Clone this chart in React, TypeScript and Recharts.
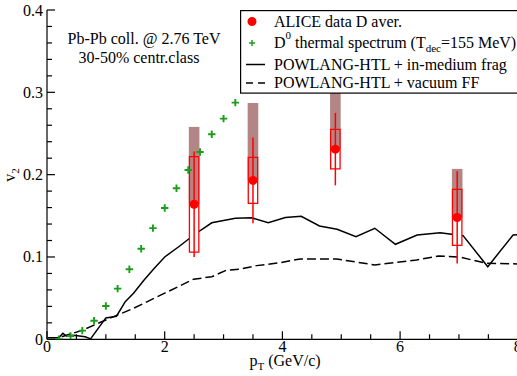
import React from "react";
import {
  ComposedChart,
  Line,
  Scatter,
  ErrorBar,
  XAxis,
  YAxis,
  ReferenceArea,
  Legend,
} from "recharts";

const FONT = "'Liberation Serif', 'Times New Roman', serif";
const RED = "#ff0000";
const GREEN = "#1a9e1a";
const BROWN = "#b38585";

// ALICE D-meson average v2
const alicePt = [2.5, 3.5, 4.9, 6.97];
const aliceV2 = [0.164, 0.193, 0.231, 0.148];
const aliceStat = [0.064, 0.052, 0.044, 0.056];
const aliceSyst = [0.058, 0.028, 0.024, 0.034];
const aliceFeedDown = [0.094, 0.094, 0.094, 0.059];

// D0 thermal spectrum, T_dec = 155 MeV
const thermalPt = [0, 0.2, 0.4, 0.6, 0.8, 1.0, 1.2, 1.4, 1.6, 1.8, 2.0, 2.2, 2.4, 2.6, 2.8, 3.0, 3.2];
const thermalV2 = [0, 0, 0.004, 0.0105, 0.0226, 0.0405, 0.0615, 0.085, 0.11, 0.135, 0.1595, 0.1835, 0.2057, 0.2276, 0.249, 0.268, 0.2875];

// POWLANG-HTL + in-medium hadronization
const inMediumPt = [0, 0.1, 0.2, 0.27, 0.33, 0.45, 0.55, 0.65, 0.74, 1.0, 1.18, 1.33, 1.47, 1.65, 1.82, 2.0, 2.25, 2.5, 2.8, 3.2, 3.48, 3.76, 4.05, 4.32, 4.63, 4.93, 5.25, 5.57, 5.92, 6.29, 6.68, 7.07, 7.49, 7.92, 8.0];
const inMediumV2 = [0.002, 0.002, 0.002, 0.0073, 0.004, 0.005, 0.004, 0.003, 0.0005, 0.026, 0.028, 0.0457, 0.056, 0.072, 0.086, 0.1, 0.113, 0.127, 0.1415, 0.147, 0.1475, 0.1415, 0.148, 0.1494, 0.1377, 0.1336, 0.1247, 0.1349, 0.1154, 0.1267, 0.1295, 0.1259, 0.0882, 0.1267, 0.127];

// POWLANG-HTL + vacuum fragmentation
const vacuumPt = [0.25, 0.6, 1.0, 1.47, 2.0, 2.49, 2.8, 3.05, 3.27, 3.56, 3.96, 4.3, 4.92, 5.57, 6.28, 6.65, 7.02, 7.47, 8.0];
const vacuumV2 = [0.003, 0.011, 0.0235, 0.0376, 0.056, 0.073, 0.076, 0.084, 0.085, 0.0895, 0.093, 0.0976, 0.0976, 0.0903, 0.0964, 0.1012, 0.0997, 0.0923, 0.0915];

const xTicks = [0, 0.5, 1, 1.5, 2, 2.5, 3, 3.5, 4, 4.5, 5, 5.5, 6, 6.5, 7, 7.5, 8];
const yTicks = [0, 0.02, 0.04, 0.06, 0.08, 0.1, 0.12, 0.14, 0.16, 0.18, 0.2, 0.22, 0.24, 0.26, 0.28, 0.3, 0.32, 0.34, 0.36, 0.38, 0.4];

const aliceData = alicePt.map((x, i) => ({ x, y: aliceV2[i], err: aliceStat[i] }));
const thermalData = thermalPt.map((x, i) => ({ x, y: thermalV2[i] }));
const inMediumData = inMediumPt.map((x, i) => ({ x, y: inMediumV2[i] }));
const vacuumData = vacuumPt.map((x, i) => ({ x, y: vacuumV2[i] }));

const BOX_HALF = 0.08;
const BAND_HALF = 0.09;
const MAJOR = 8;
const MINOR = 5;

const isMajor = (v: number, step: number) => Math.abs(v / step - Math.round(v / step)) < 1e-6;

const BottomTick = ({ x, y, payload }: any) => {
  const major = isMajor(payload.value, 2);
  return (
    <g>
      <line x1={x} x2={x} y1={y} y2={y - (major ? MAJOR : MINOR)} stroke="#000" strokeWidth={1.2} />
      {major && (
        <text x={x} y={y + 13} textAnchor="middle" fontFamily={FONT} fontSize={16} fill="#000">
          {payload.value}
        </text>
      )}
    </g>
  );
};

const TopTick = ({ x, y, payload }: any) => {
  const major = isMajor(payload.value, 2);
  return <line x1={x} x2={x} y1={y} y2={y + (major ? MAJOR : MINOR)} stroke="#000" strokeWidth={1.2} />;
};

const LeftTick = ({ x, y, payload }: any) => {
  const major = isMajor(payload.value, 0.1);
  return (
    <g>
      <line x1={x} x2={x + (major ? MAJOR : MINOR)} y1={y} y2={y} stroke="#000" strokeWidth={1.2} />
      {major && (
        <text x={x - 4} y={y + 5.5} textAnchor="end" fontFamily={FONT} fontSize={16} fill="#000">
          {String(Math.round(payload.value * 10) / 10)}
        </text>
      )}
    </g>
  );
};

const RightTick = ({ x, y, payload }: any) => {
  const major = isMajor(payload.value, 0.1);
  return <line x1={x} x2={x - (major ? MAJOR : MINOR)} y1={y} y2={y} stroke="#000" strokeWidth={1.2} />;
};

const RedDot = ({ cx, cy }: any) => <circle cx={cx} cy={cy} r={4.5} fill={RED} />;

const GreenPlus = ({ cx, cy }: any) => (
  <g stroke={GREEN} strokeWidth={1.9}>
    <line x1={cx - 3.7} x2={cx + 3.7} y1={cy} y2={cy} />
    <line x1={cx} x2={cx} y1={cy - 3.7} y2={cy + 3.7} />
  </g>
);

const LegendBox = () => (
  <svg width={290} height={84} style={{ display: "block" }}>
    <rect x={0.6} y={0.6} width={288} height={82.5} fill="#fff" stroke="#000" strokeWidth={1.2} />
    <g fontFamily={FONT} fontSize={16} fill="#000">
      <circle cx={12} cy={11.5} r={4.5} fill={RED} />
      <text x={34} y={16.5}>ALICE data D aver.</text>

      <g stroke={GREEN} strokeWidth={1.5}>
        <line x1={9} x2={15} y1={33} y2={33} />
        <line x1={12} x2={12} y1={30} y2={36} />
      </g>
      <text x={34} y={38}>
        D<tspan dy={-9} fontSize={11}>0</tspan>
        <tspan dy={9}> thermal spectrum (T</tspan>
        <tspan dy={4} fontSize={11}>dec</tspan>
        <tspan dy={-4}>=155 MeV)</tspan>
      </text>

      <line x1={6} x2={25} y1={54.5} y2={54.5} stroke="#000" strokeWidth={1.5} />
      <text x={34} y={60}>POWLANG-HTL + in-medium frag</text>

      <line x1={6} x2={25} y1={73} y2={73} stroke="#000" strokeWidth={1.5} strokeDasharray="7 5" />
      <text x={34} y={77.5}>POWLANG-HTL + vacuum FF</text>
    </g>
  </svg>
);

export default function App() {
  return (
    <div style={{ position: "absolute", left: 0, top: 0 }}>
      <ComposedChart
        width={520}
        height={376}
        margin={{ top: 10, right: 2.2, bottom: 0, left: 0 }}
      >
        <XAxis
          xAxisId={0}
          dataKey="x"
          type="number"
          domain={[0, 8]}
          ticks={xTicks}
          interval={0}
          allowDataOverflow
          height={36.7}
          tickSize={0}
          tickMargin={0}
          tickLine={false}
          tick={<BottomTick />}
          axisLine={{ stroke: "#000", strokeWidth: 1.2 }}
        />
        <XAxis
          xAxisId="top"
          orientation="top"
          type="number"
          domain={[0, 8]}
          ticks={xTicks}
          interval={0}
          allowDataOverflow
          height={0}
          tickSize={0}
          tickMargin={0}
          tickLine={false}
          tick={<TopTick />}
          axisLine={{ stroke: "#000", strokeWidth: 1.2 }}
        />
        <YAxis
          yAxisId={0}
          type="number"
          domain={[0, 0.4]}
          ticks={yTicks}
          interval={0}
          allowDataOverflow
          width={47}
          tickSize={0}
          tickMargin={0}
          tickLine={false}
          tick={<LeftTick />}
          axisLine={{ stroke: "#000", strokeWidth: 1.2 }}
        />
        <YAxis
          yAxisId="right"
          orientation="right"
          type="number"
          domain={[0, 0.4]}
          ticks={yTicks}
          interval={0}
          allowDataOverflow
          width={0}
          tickSize={0}
          tickMargin={0}
          tickLine={false}
          tick={<RightTick />}
          axisLine={{ stroke: "#000", strokeWidth: 1.2 }}
        />

        <Line
          data={inMediumData}
          dataKey="y"
          type="linear"
          stroke="#000"
          strokeWidth={1.5}
          dot={false}
          zIndex={300}
          isAnimationActive={false}
        />
        <Line
          data={vacuumData}
          dataKey="y"
          type="linear"
          stroke="#000"
          strokeWidth={1.5}
          strokeDasharray="9 4"
          dot={false}
          zIndex={300}
          isAnimationActive={false}
        />

        {/* systematic boxes: white body, feed-down band, red outline */}
        {aliceData.map((d, i) => (
          <ReferenceArea
            key={`body-${i}`}
            x1={d.x - BOX_HALF}
            x2={d.x + BOX_HALF}
            y1={d.y - aliceSyst[i]}
            y2={d.y + aliceSyst[i]}
            fill="#fff"
            fillOpacity={1}
            stroke="none"
            zIndex={350}
          />
        ))}
        {aliceData.map((d, i) => (
          <ReferenceArea
            key={`fd-${i}`}
            x1={d.x - BAND_HALF}
            x2={d.x + BAND_HALF}
            y1={d.y}
            y2={d.y + aliceFeedDown[i]}
            fill={BROWN}
            fillOpacity={1}
            stroke="none"
            zIndex={351}
          />
        ))}
        {aliceData.map((d, i) => (
          <ReferenceArea
            key={`syst-${i}`}
            x1={d.x - BOX_HALF}
            x2={d.x + BOX_HALF}
            y1={d.y - aliceSyst[i]}
            y2={d.y + aliceSyst[i]}
            fill="none"
            fillOpacity={0}
            stroke={RED}
            strokeWidth={1.3}
            zIndex={352}
          />
        ))}

        <Scatter
          data={thermalData}
          dataKey="y"
          shape={<GreenPlus />}
          zIndex={600}
          isAnimationActive={false}
        />
        <Scatter
          data={aliceData}
          dataKey="y"
          shape={<RedDot />}
          zIndex={600}
          isAnimationActive={false}
        >
          <ErrorBar dataKey="err" direction="y" width={0} stroke={RED} strokeWidth={1.5} zIndex={550} />
        </Scatter>

        <text x={144} y={43.5} textAnchor="middle" fontFamily={FONT} fontSize={16} fill="#000">
          Pb-Pb coll. @ 2.76 TeV
        </text>
        <text x={139} y={63} textAnchor="middle" fontFamily={FONT} fontSize={16} fill="#000">
          30-50% centr.class
        </text>
        <text
          x={15}
          y={175}
          transform="rotate(-90, 15, 175)"
          textAnchor="middle"
          fontFamily={FONT}
          fontSize={16}
          fill="#000"
        >
          v<tspan dy={4} fontSize={11}>2</tspan>
        </text>
        <text x={285} y={366} textAnchor="middle" fontFamily={FONT} fontSize={16} fill="#000">
          p<tspan dy={4} fontSize={11}>T</tspan>
          <tspan dy={-4}> (GeV/c)</tspan>
        </text>

        <Legend
          layout="horizontal"
          verticalAlign="middle"
          align="center"
          content={<LegendBox />}
          wrapperStyle={{ left: 240, top: 9.5, width: 290, height: 84 }}
        />
      </ComposedChart>
    </div>
  );
}
